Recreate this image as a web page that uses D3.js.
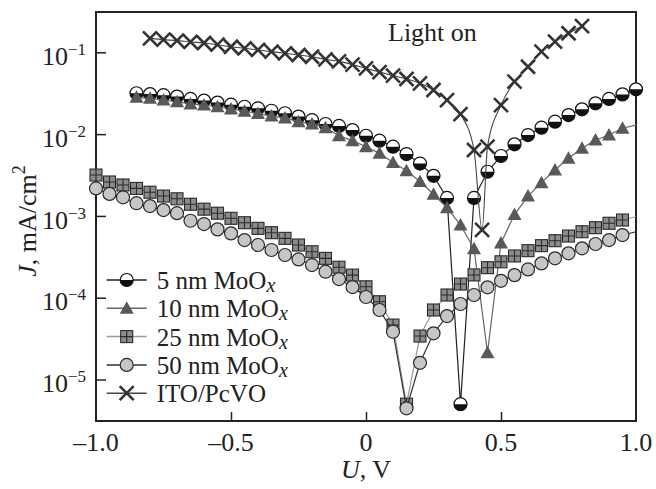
<!doctype html>
<html>
<head>
<meta charset="utf-8">
<script src="https://cdnjs.cloudflare.com/ajax/libs/d3/7.8.5/d3.min.js"></script>
<style>
  body{margin:0;background:#fff}
  svg{display:block;background:#fff;font-family:"Liberation Serif","Times New Roman",serif}
</style>
</head>
<body>
<svg width="656" height="489"></svg>
<script>
// J–U data (U in V, J in mA/cm^2)
const u5  = [-0.85,-0.80,-0.75,-0.70,-0.65,-0.60,-0.55,-0.50,-0.45,-0.40,-0.35,-0.30,-0.25,-0.20,-0.15,-0.10,-0.05,0.00,0.05,0.10,0.15,0.20,0.25,0.30,0.35,0.40,0.45,0.50,0.55,0.60,0.65,0.70,0.75,0.80,0.85,0.90,0.95,1.00];
const j5  = [0.0316,0.0309,0.0299,0.0288,0.0269,0.0257,0.0243,0.0229,0.0216,0.0207,0.0193,0.0180,0.0164,0.0148,0.0133,0.0126,0.0112,0.00955,0.00832,0.00702,0.00571,0.00437,0.00309,0.00166,5.0e-6,0.00166,0.00347,0.00540,0.00750,0.00975,0.0120,0.0142,0.0171,0.0201,0.0238,0.0269,0.0306,0.0353];

const u10 = [-0.85,-0.80,-0.75,-0.70,-0.65,-0.60,-0.55,-0.50,-0.45,-0.40,-0.35,-0.30,-0.25,-0.20,-0.15,-0.10,-0.05,0.00,0.05,0.10,0.15,0.20,0.25,0.30,0.35,0.40,0.45,0.50,0.55,0.60,0.65,0.70,0.75,0.80,0.85,0.90,0.95,1.00];
const j10 = [0.0282,0.0274,0.0261,0.0249,0.0233,0.0227,0.0216,0.0203,0.0191,0.0179,0.0166,0.0158,0.0142,0.0133,0.0120,0.00955,0.00832,0.00702,0.00582,0.00450,0.00357,0.00263,0.00184,0.00126,0.000774,0.000398,2.13e-5,0.000468,0.00104,0.00175,0.00255,0.00364,0.00506,0.00670,0.00847,0.00975,0.0118,0.0129];

const u25 = [-1.00,-0.95,-0.90,-0.85,-0.80,-0.75,-0.70,-0.65,-0.60,-0.55,-0.50,-0.45,-0.40,-0.35,-0.30,-0.25,-0.20,-0.15,-0.10,-0.05,0.00,0.05,0.10,0.15,0.20,0.25,0.30,0.35,0.40,0.45,0.50,0.55,0.60,0.65,0.70,0.75,0.80,0.85,0.90,0.95,1.00];
const j25 = [0.00316,0.00260,0.00239,0.00217,0.00195,0.00175,0.00162,0.00139,0.00121,0.00108,0.000935,0.000826,0.000705,0.000624,0.000532,0.000441,0.000365,0.000303,0.000236,0.000189,0.000136,8.93e-5,4.63e-5,5.0e-6,3.40e-5,7.08e-5,0.000108,0.000147,0.000190,0.000233,0.000275,0.000324,0.000376,0.000433,0.000498,0.000568,0.000641,0.000718,0.000813,0.000891,0.000977];

const u50 = [-1.00,-0.95,-0.90,-0.85,-0.80,-0.75,-0.70,-0.65,-0.60,-0.55,-0.50,-0.45,-0.40,-0.35,-0.30,-0.25,-0.20,-0.15,-0.10,-0.05,0.00,0.05,0.10,0.15,0.20,0.25,0.30,0.35,0.40,0.45,0.50,0.55,0.60,0.65,0.70,0.75,0.80,0.85,0.90,0.95,1.00];
const j50 = [0.00217,0.00186,0.00169,0.00143,0.00132,0.00118,0.00108,0.000873,0.000796,0.000685,0.000612,0.000507,0.000441,0.000383,0.000333,0.000294,0.000251,0.000208,0.000169,0.000135,0.000102,7.08e-5,3.84e-5,4.45e-6,1.60e-5,3.67e-5,5.97e-5,8.38e-5,0.000108,0.000134,0.000161,0.000189,0.000222,0.000263,0.000303,0.000349,0.000402,0.000454,0.000507,0.000583,0.000641];

const uIto = [-0.80,-0.75,-0.70,-0.65,-0.60,-0.55,-0.50,-0.45,-0.40,-0.35,-0.30,-0.25,-0.20,-0.15,-0.10,-0.05,0.00,0.05,0.10,0.15,0.20,0.25,0.30,0.35,0.40,0.43,0.45,0.50,0.55,0.60,0.65,0.70,0.75,0.80];
const jIto = [0.148,0.143,0.139,0.134,0.130,0.124,0.117,0.112,0.107,0.102,0.0973,0.0927,0.0883,0.0820,0.0776,0.0708,0.0637,0.0574,0.0520,0.0472,0.0418,0.0346,0.0261,0.0176,0.00640,0.000676,0.00702,0.0226,0.0438,0.0667,0.102,0.135,0.171,0.209];

const legendNames = ["5 nm MoO", "10 nm MoO", "25 nm MoO", "50 nm MoO", "ITO/PcVO"];
const xTicks = [-1, -0.5, 0, 0.5, 1];
const xTickLabels = ["\u20131.0", "\u20130.5", "0", "0.5", "1.0"];
const yTicks = [1e-1, 1e-2, 1e-3, 1e-4, 1e-5];
const yTickExp = ["\u22121", "\u22122", "\u22123", "\u22124", "\u22125"];

const svg = d3.select("svg");
const pLeft = 96, pRight = 636, pTop = 12, pBottom = 421;

const x = d3.scaleLinear().domain([-1, 1]).range([pLeft, pRight]);
const y = d3.scaleLog().domain([Math.pow(10, -5.507), Math.pow(10, -0.507)]).range([pBottom, pTop]);

// frame
svg.append("rect")
  .attr("x", pLeft).attr("y", pTop)
  .attr("width", pRight - pLeft).attr("height", pBottom - pTop)
  .attr("fill", "none").attr("stroke", "#222").attr("stroke-width", 2);

// inward ticks
const yAxis = svg.append("g").attr("transform", `translate(${pLeft},0)`)
  .call(d3.axisLeft(y).tickValues(yTicks).tickSizeInner(-10).tickSizeOuter(0).tickFormat(() => ""));
const xAxis = svg.append("g").attr("transform", `translate(0,${pBottom})`)
  .call(d3.axisBottom(x).tickValues([-0.5, 0, 0.5]).tickSizeInner(-9).tickSizeOuter(0).tickFormat(() => ""));
[yAxis, xAxis].forEach(a => {
  a.select(".domain").remove();
  a.selectAll("line").attr("stroke", "#222").attr("stroke-width", 1.5);
});

// tick labels
const yl = svg.append("g").selectAll("text").data(yTicks).enter().append("text")
  .attr("x", 86).attr("y", d => y(d) + 12.7)
  .attr("text-anchor", "end").attr("font-size", 26).attr("fill", "#222");
yl.append("tspan").text("10");
yl.append("tspan").attr("font-size", 17).attr("dy", -10).text((d, i) => yTickExp[i]);

svg.append("g").selectAll("text").data(xTicks).enter().append("text")
  .attr("x", d => x(d)).attr("y", 451)
  .attr("text-anchor", "middle").attr("font-size", 26).attr("fill", "#222")
  .text((d, i) => xTickLabels[i]);

// axis titles
const xt = svg.append("text").attr("x", 366).attr("y", 478)
  .attr("text-anchor", "middle").attr("font-size", 26).attr("fill", "#222");
xt.append("tspan").attr("font-style", "italic").text("U");
xt.append("tspan").text(", V");

const yt = svg.append("text").attr("transform", "translate(36,221) rotate(-90)")
  .attr("text-anchor", "middle").attr("font-size", 26).attr("fill", "#222");
yt.append("tspan").attr("font-style", "italic").text("J");
yt.append("tspan").text(", mA/cm");
yt.append("tspan").attr("font-size", 18).attr("dy", -11).text("2");

svg.append("text").attr("x", 388).attr("y", 41)
  .attr("font-size", 26).attr("fill", "#222").text("Light on");

// markers
function drawMarker(g, type) {
  if (type === "half") {
    g.append("circle").attr("r", 6.5).attr("fill", "#fff");
    g.append("path").attr("d", "M-6.5,0A6.5,6.5 0 0,0 6.5,0Z").attr("fill", "#111");
    g.append("circle").attr("r", 6.5).attr("fill", "none").attr("stroke", "#111").attr("stroke-width", 1.2);
  } else if (type === "tri") {
    g.append("path").attr("d", "M0,-7L7,5.5L-7,5.5Z").attr("fill", "#595959");
  } else if (type === "sq") {
    g.append("rect").attr("x", -6).attr("y", -6).attr("width", 12).attr("height", 12)
      .attr("fill", "#8c8c8c").attr("stroke", "#2a2a2a").attr("stroke-width", 1.1);
    g.append("path").attr("d", "M0,-6V6M-6,0H6").attr("stroke", "#2a2a2a").attr("stroke-width", 1.1);
  } else if (type === "circ") {
    g.append("circle").attr("r", 6.5).attr("fill", "#c6c6c6").attr("stroke", "#2a2a2a").attr("stroke-width", 1.2);
  } else if (type === "cross") {
    g.append("path").attr("d", "M-7,-7L7,7M-7,7L7,-7").attr("stroke", "#333").attr("stroke-width", 2.6).attr("fill", "none");
  }
}

const series = [
  {u: u5,   j: j5,   mark: "half",  line: "#222", width: 1.2, markEnd: true,  curve: d3.curveLinear},
  {u: u10,  j: j10,  mark: "tri",   line: "#666", width: 1.2, markEnd: false, curve: d3.curveLinear},
  {u: u25,  j: j25,  mark: "sq",    line: "#9a9a9a", width: 1.2, markEnd: false, curve: d3.curveLinear},
  {u: u50,  j: j50,  mark: "circ",  line: "#333", width: 1.2, markEnd: false, curve: d3.curveLinear},
  {u: uIto, j: jIto, mark: "cross", line: "#444", width: 1.1, markEnd: true,  curve: d3.curveMonotoneX}
];

series.forEach(s => {
  const pts = s.u.map((u, i) => [u, s.j[i]]);
  const line = d3.line().x(d => x(d[0])).y(d => y(d[1])).curve(s.curve);
  svg.append("path").datum(pts).attr("d", line)
    .attr("fill", "none").attr("stroke", s.line).attr("stroke-width", s.width);
  const marked = s.markEnd ? pts : pts.filter(d => d[0] < 0.975);
  svg.append("g").selectAll("g").data(marked).enter().append("g")
    .attr("transform", d => `translate(${x(d[0])},${y(d[1])})`)
    .each(function() { drawMarker(d3.select(this), s.mark); });
});

// legend
const leg = svg.append("g").selectAll("g").data(series).enter().append("g")
  .attr("transform", (d, i) => `translate(0,${280 + i * 28.3})`);
leg.append("line").attr("x1", 106.7).attr("x2", 146.7)
  .attr("stroke", d => d.line).attr("stroke-width", 1.5);
leg.append("g").attr("transform", "translate(126.7,0)")
  .each(function(d) { drawMarker(d3.select(this), d.mark); });
const lt = leg.append("text").attr("x", 156.7).attr("y", 9)
  .attr("font-size", 25).attr("fill", "#222");
lt.append("tspan").text((d, i) => legendNames[i]);
lt.filter((d, i) => i < 4).append("tspan")
  .attr("font-style", "italic").attr("font-size", 20).attr("dy", 3).text("x");
</script>
</body>
</html>
